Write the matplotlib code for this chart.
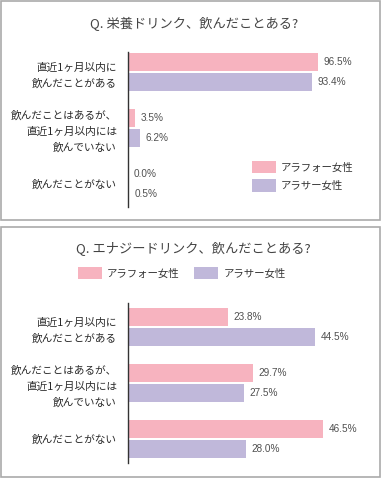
import matplotlib
matplotlib.use('Agg')
import matplotlib.pyplot as plt
from matplotlib.patches import Rectangle
import numpy as np

plt.rcParams['font.family'] = ['Noto Sans CJK JP', 'DejaVu Sans']

categories = ['直近1ヶ月以内に\n飲んだことがある',
              '飲んだことはあるが、\n直近1ヶ月以内には\n飲んでいない',
              '飲んだことがない']
series_names = ['アラフォー女性', 'アラサー女性']
nutrition_around40 = [96.5, 3.5, 0.0]
nutrition_around30 = [93.4, 6.2, 0.5]
energy_around40 = [23.8, 29.7, 46.5]
energy_around30 = [44.5, 27.5, 28.0]
titles = ['Q. 栄養ドリンク、飲んだことある?', 'Q. エナジードリンク、飲んだことある?']

PINK = '#F7B3BF'
PURPLE = '#C0B8DA'
W, H = 381, 480
fig = plt.figure(figsize=(W / 100, H / 100), dpi=100)


def px_axes(x0, y0, x1, y1):
    return fig.add_axes([x0 / W, 1 - y1 / H, (x1 - x0) / W, (y1 - y0) / H])


def draw_panel(ax, v40, v30, xmax, ylim):
    y = np.arange(len(categories))
    off, h = 10 / 56, 18 / 56
    b1 = ax.barh(y - off, v40, height=h, color=PINK, label=series_names[0])
    b2 = ax.barh(y + off, v30, height=h, color=PURPLE, label=series_names[1])
    for bars, vals in ((b1, v40), (b2, v30)):
        for rect, v in zip(bars, vals):
            ax.annotate(f'{v:.1f}%', xy=(v, rect.get_y() + rect.get_height() / 2),
                        xytext=(4, 0), textcoords='offset points',
                        ha='left', va='center', fontsize=7.2,
                        family=['Liberation Sans', 'DejaVu Sans'], color='#505050')
    ax.set_xlim(0, xmax)
    ax.set_ylim(*ylim)
    ax.set_yticks(y)
    ax.set_yticklabels(categories, fontsize=7.7, color='#2a2a2a', linespacing=1.7)
    ax.tick_params(axis='y', length=0, pad=8)
    ax.set_xticks([])
    for s in ('top', 'right', 'bottom'):
        ax.spines[s].set_visible(False)
    ax.spines['left'].set_color('#333333')
    ax.spines['left'].set_linewidth(1)
    ax.patch.set_alpha(0)
    return b1, b2


# panel borders
for (y0, y1) in ((1, 220), (227, 477)):
    fig.patches.append(Rectangle((1 / W, 1 - y1 / H), 378.5 / W, (y1 - y0) / H,
                                 transform=fig.transFigure, fill=False,
                                 edgecolor='#AAAAAA', linewidth=1.2))

# Panel 1
ax1 = px_axes(128, 52, 325, 207)
b1, b2 = draw_panel(ax1, nutrition_around40, nutrition_around30, 100,
                    (2 + 23 / 56, -20 / 56))
fig.text(194 / W, 1 - 24 / H, titles[0], ha='center', va='center',
         fontsize=9.5, color='#444444')
ax1.legend(handles=[b1, b2], labels=series_names, loc='upper left',
           bbox_to_anchor=(252 / W, 1 - 161 / H), bbox_transform=fig.transFigure,
           frameon=False, borderpad=0, borderaxespad=0, fontsize=7.5,
           handlelength=2.3, handleheight=1.44, labelspacing=0.58,
           handletextpad=0.5, labelcolor='#333333')

# Panel 2
ax2 = px_axes(128, 303, 338, 463)
c1, c2 = draw_panel(ax2, energy_around40, energy_around30, 50,
                    (2 + 24 / 56, -24 / 56))
fig.text(193 / W, 1 - 249 / H, titles[1], ha='center', va='center',
         fontsize=9.5, color='#444444')
ax2.legend(handles=[c1, c2], labels=series_names, loc='upper left', ncol=2,
           bbox_to_anchor=(78 / W, 1 - 267 / H), bbox_transform=fig.transFigure,
           frameon=False, borderpad=0, borderaxespad=0, fontsize=7.5,
           handlelength=2.3, handleheight=1.44, columnspacing=1.4,
           handletextpad=0.5, labelcolor='#333333')

fig.savefig('out.png', dpi=100)
